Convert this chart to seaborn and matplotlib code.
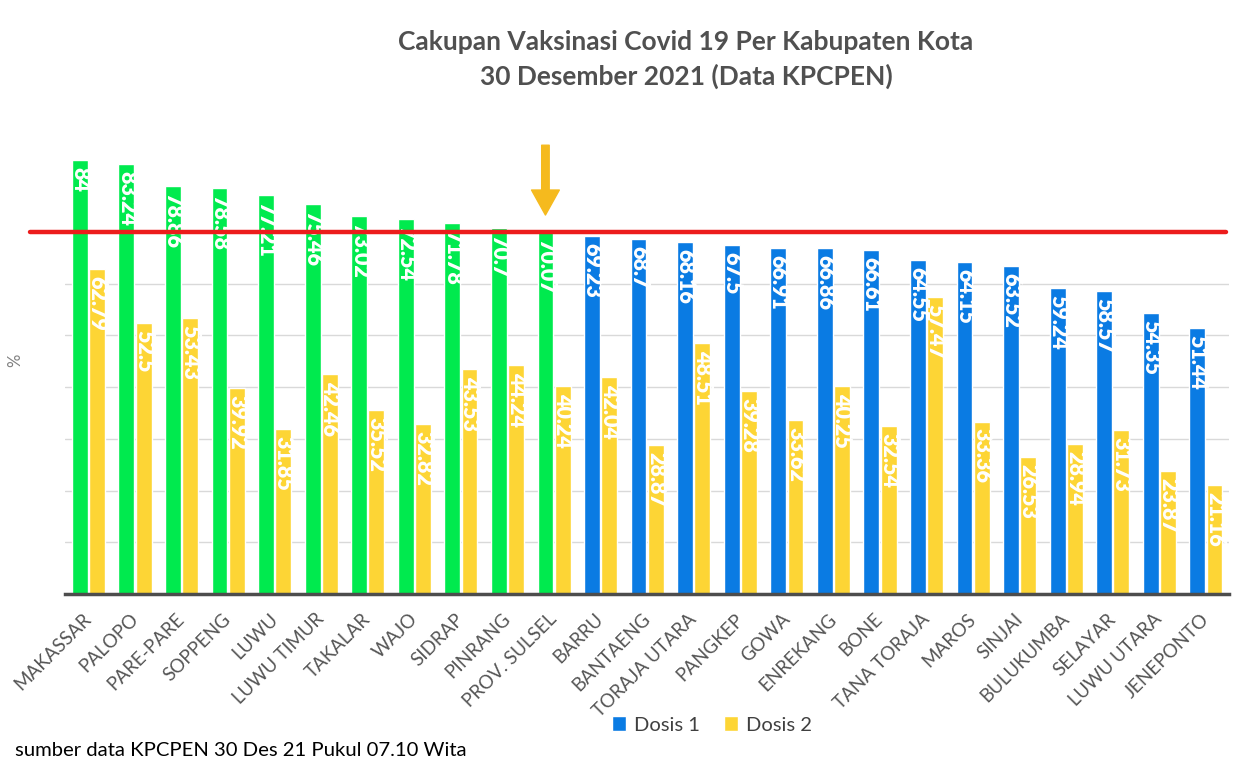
# Cakupan Vaksinasi Covid 19 per Kabupaten Kota, 30 Des 2021
import numpy as np
import pandas as pd
import matplotlib.pyplot as plt
import seaborn as sns

# data
kabupaten = ["MAKASSAR", "PALOPO", "PARE-PARE", "SOPPENG", "LUWU", "LUWU TIMUR",
             "TAKALAR", "WAJO", "SIDRAP", "PINRANG", "PROV. SULSEL", "BARRU",
             "BANTAENG", "TORAJA UTARA", "PANGKEP", "GOWA", "ENREKANG", "BONE",
             "TANA TORAJA", "MAROS", "SINJAI", "BULUKUMBA", "SELAYAR",
             "LUWU UTARA", "JENEPONTO"]
dosis_1 = [84, 83.24, 78.86, 78.58, 77.21, 75.46, 73.02, 72.54, 71.78, 70.7, 70.07,
           69.23, 68.7, 68.16, 67.5, 66.91, 66.86, 66.61, 64.55, 64.15, 63.52,
           59.24, 58.57, 54.35, 51.44]
dosis_2 = [62.79, 52.5, 53.43, 39.92, 31.85, 42.46, 35.52, 32.82, 43.53, 44.24, 40.24,
           42.04, 28.87, 48.51, 39.28, 33.62, 40.25, 32.54, 57.47, 33.36, 26.53,
           28.94, 31.73, 23.87, 21.16]
n_above_target = 11   # bars drawn green (at or above the target)
target = 70

df = pd.DataFrame({
    "wilayah": kabupaten * 2,
    "persen": dosis_1 + dosis_2,
    "dosis": ["Dosis 1"] * len(kabupaten) + ["Dosis 2"] * len(kabupaten),
})

blue = '#0A7BE3'
green = '#00EA4E'
yellow = '#FDD535'
text_gray = '#505050'

sns.set_style('white')
plt.rcParams['font.family'] = ['Lato', 'DejaVu Sans']

fig = plt.figure(figsize=(12.53, 7.81), dpi=100)
ax = fig.add_axes([0.052, 0.2394, 0.929, 0.5826])

sns.barplot(data=df, x="wilayah", y="persen", hue="dosis",
            palette={"Dosis 1": blue, "Dosis 2": yellow},
            width=0.74, gap=0.08, saturation=1, ax=ax)

# first bars in green
for bar in ax.containers[0][:n_above_target]:
    bar.set_facecolor(green)

# value labels inside the bars
for cont in ax.containers:
    for bar in cont:
        h = bar.get_height()
        ax.annotate(f"{h:g}", (bar.get_x() + bar.get_width() / 2, h),
                    xytext=(0, -5), textcoords='offset points',
                    rotation=-90, ha='center', va='top',
                    color='white', fontweight='heavy', fontsize=15.5, zorder=4)

ax.set_ylim(0, 88)
ax.set_xlim(-0.5, len(kabupaten) - 0.5)
ax.set_yticks(range(0, 70, 10))
ax.set_yticklabels([])
ax.yaxis.grid(True, color='#D9D9D9', lw=1)
ax.set_axisbelow(True)
ax.tick_params(axis='both', length=0)
ax.tick_params(axis='x', pad=16)
ax.set_xticks(range(len(kabupaten)))
ax.set_xticklabels(kabupaten, rotation=45, ha='right', va='center',
                   rotation_mode='anchor', fontsize=13.5, color='#555555')
ax.set_xlabel('')
ax.set_ylabel('')
for s in ['top', 'left', 'right']:
    ax.spines[s].set_visible(False)
ax.spines['bottom'].set_color('#4D4D4D')
ax.spines['bottom'].set_linewidth(2.5)

# target line
ax.axhline(target, xmin=-0.03, xmax=0.997, color='#EC1C1C', lw=3.2,
           clip_on=False, zorder=6)

# arrow over PROV. SULSEL
ax.annotate('', xy=(10 - 0.185, 73.3), xytext=(10 - 0.185, 86.8),
            arrowprops=dict(arrowstyle='simple,head_width=1.0,head_length=0.9,tail_width=0.27',
                            color='#F5BA1E', shrinkA=0, shrinkB=0, mutation_scale=20),
            annotation_clip=False, zorder=6)

# legend
handles, labels = ax.get_legend_handles_labels()
ax.get_legend().remove()
fig.legend(handles, labels, loc='center', bbox_to_anchor=(712 / 1253, 1 - 725 / 781),
           ncol=2, frameon=False, fontsize=14.5, handlelength=0.7, handleheight=0.7,
           handletextpad=0.4, columnspacing=1.2, labelcolor='#404040')

fig.text(686 / 1253, 1 - 42 / 781, "Cakupan Vaksinasi Covid 19 Per Kabupaten Kota",
         ha='center', va='center', fontsize=19, fontweight='bold', color=text_gray)
fig.text(686 / 1253, 1 - 76 / 781, "30 Desember 2021 (Data KPCPEN)",
         ha='center', va='center', fontsize=19, fontweight='bold', color=text_gray)
fig.text(15 / 1253, 1 - 360 / 781, "%", rotation=90, ha='center', va='center',
         fontsize=12, color='#7F7F7F')
fig.text(15 / 1253, 1 - 750 / 781, "sumber data KPCPEN 30 Des 21 Pukul 07.10 Wita",
         ha='left', va='center', fontsize=14.6, color='black')

plt.savefig("out.png", dpi=100)
